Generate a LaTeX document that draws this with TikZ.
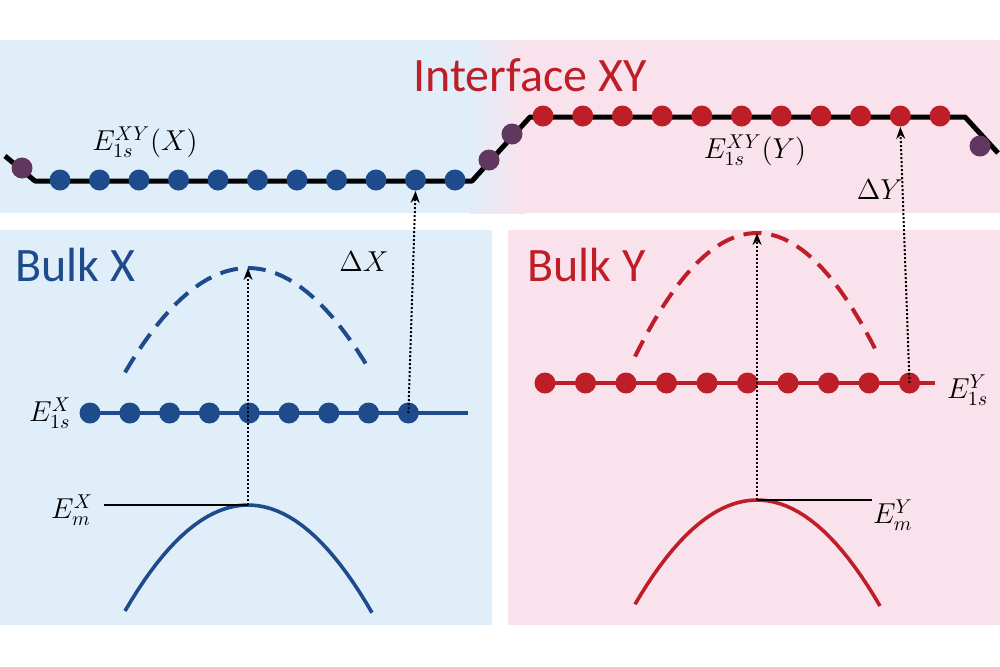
\documentclass[tikz,border=0pt]{standalone}
\usepackage{fontspec}
\setsansfont{Carlito}
\usetikzlibrary{arrows.meta}
\definecolor{bx}{RGB}{30,75,140}
\definecolor{ry}{RGB}{190,30,40}
\definecolor{bgb}{RGB}{224,238,250}
\definecolor{bgp}{RGB}{250,226,236}
\definecolor{pur}{RGB}{95,55,95}
\tikzset{
  dotb/.style={circle,fill=bx,inner sep=0pt,minimum size=10.5pt},
  dotr/.style={circle,fill=ry,inner sep=0pt,minimum size=10.5pt},
  dotp/.style={circle,fill=pur,inner sep=0pt,minimum size=10.5pt},
  arr/.style={densely dotted,line width=1pt,-{Stealth[length=6pt,width=4.5pt]}},
  lbl/.style={font=\fontsize{14}{16}\selectfont},
  big/.style={font=\sffamily\fontsize{24}{28}\selectfont},
}
\begin{document}
\begin{tikzpicture}[x=0.5pt,y=-0.5pt]
\useasboundingbox (0,0) rectangle (1000,666);
\fill[white] (0,0) rectangle (1000,666);
% backgrounds
\fill[bgb] (0,40) rectangle (470,213);
\shade[left color=bgb,right color=bgp] (470,40) rectangle (525,213);
\fill[bgp] (525,40) rectangle (1000,213);
\fill[bgb] (0,230) rectangle (492,625);
\fill[bgp] (508,230) rectangle (1000,625);
% interface line
\draw[line width=2.5pt,line join=round] (5,156) -- (35,181) -- (472,181) -- (530,117) -- (965,117) -- (998,153);
\foreach \i in {0,...,10} \node[dotb] (ib\i) at (60+39.5*\i,180) {};
\foreach \i in {0,...,10} \node[dotr] (ir\i) at (543+39.7*\i,116) {};
\node[dotp] (p1) at (22,168) {};
\node[dotp] (p2) at (489,160) {};
\node[dotp] (p3) at (512,134) {};
\node[dotp] (p4) at (980,146) {};
\node[big,text=ry] (title) at (530,75) {Interface XY};
\node[lbl] (exyx) at (145,142) {$E_{1s}^{XY}(X)$};
\node[lbl] (exyy) at (755,150) {$E_{1s}^{XY}(Y)$};
% Bulk X
\node[big,text=bx,anchor=west] (bx) at (8,265) {Bulk X};
\draw[bx,dashed,line width=2pt,dash pattern=on 9pt off 5pt,domain=125:370,samples=40] plot (\x,{268+0.0069*(\x-248)^2});
\draw[bx,line width=1.8pt] (80,413) -- (468,413);
\foreach \i in {0,...,8} \node[dotb] (xb\i) at (90+39.8*\i,413) {};
\node[lbl,anchor=east] (e1sx) at (78,413) {$E_{1s}^{X}$};
\draw[bx,line width=1.8pt,domain=125:372,samples=40] plot (\x,{505+0.0070*(\x-248)^2});
\coordinate (pkx) at (248,505);
\node[lbl,anchor=east] (emx) at (100,510) {$E_{m}^{X}$};
\draw[line width=0.7pt] (104,505) -- (pkx);
\coordinate (topx) at (248,268);
\draw[arr] (pkx) -- (topx);
\draw[arr] (xb8.center) -- (ib9.south);
\node[lbl] (dx) at (364,262) {$\Delta X$};
% Bulk Y
\node[big,text=ry,anchor=west] (by) at (520,265) {Bulk Y};
\draw[ry,dashed,line width=2pt,dash pattern=on 9pt off 5pt,domain=635:878,samples=40] plot (\x,{233+0.0083*(\x-757)^2});
\draw[ry,line width=1.8pt] (535,383) -- (935,383);
\foreach \i in {0,...,9} \node[dotr] (yb\i) at (545+40.5*\i,383) {};
\node[lbl,anchor=west] (e1sy) at (940,390) {$E_{1s}^{Y}$};
\draw[ry,line width=1.8pt,domain=635:880,samples=40] plot (\x,{500+0.0070*(\x-757)^2});
\coordinate (pky) at (757,500);
\node[lbl,anchor=west] (emy) at (866,515) {$E_{m}^{Y}$};
\draw[line width=0.7pt] (pky) -- (872,500);
\coordinate (topy) at (757,233);
\draw[arr] (pky) -- (topy);
\draw[arr] (yb9.center) -- (ir9.south);
\node[lbl] (dy) at (880,190) {$\Delta Y$};
\end{tikzpicture}
\end{document}
